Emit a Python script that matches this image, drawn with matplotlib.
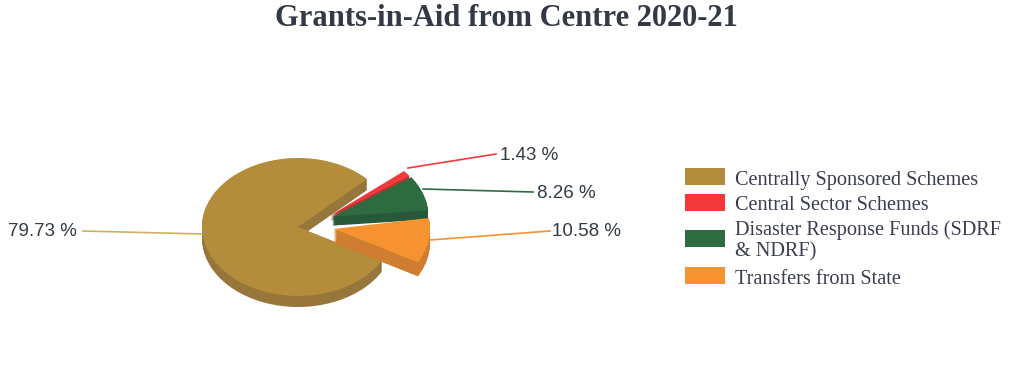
import numpy as np
import matplotlib
matplotlib.use("Agg")
import matplotlib.pyplot as plt
from matplotlib.patches import Rectangle

labels = ["Centrally Sponsored Schemes", "Central Sector Schemes",
          "Disaster Response Funds (SDRF\n& NDRF)", "Transfers from State"]
values = [79.73, 1.43, 8.26, 10.58]
explode = [0, 0.34, 0.37, 0.37]
colors = ["#b38c3c", "#f23a3a", "#2f6b40", "#f79230"]
side_colors = ["#96763a", "#c22f30", "#27583a", "#cf7d30"]
value_labels = ["79.73 %", "1.43 %", "8.26 %", "10.58 %"]

# the source chart's perspective moves the pulled out slices a little
turn = [0, -4, -4, 0]
nudge = [(0, 0), (8, -4), (2, 0), (1, 2.5)]
wall = [11, 6, 9, 14]

fig = plt.figure(figsize=(10.22, 3.81), dpi=100)
ax = fig.add_axes([0, 0, 1, 1])

# pie squashed into an ellipse through the axis limits
cx, cy, rx, ry = 298, 227, 96, 69
layers = [(side_colors, d) for d in np.linspace(1, 0.05, 14)] + [(colors, 0)]
for k, (c, frac) in enumerate(layers):
    wedges, _ = ax.pie(values, startangle=331, counterclock=False, colors=c, explode=explode,
                       radius=1)
    # each slice keeps its own stack, the later slices lie on top
    for i, w in enumerate(wedges):
        w.set_zorder(10 + i * 100 + k)
        w.set_theta1(w.theta1 + turn[i])
        w.set_theta2(w.theta2 + turn[i])
        w.set_center((w.center[0] + nudge[i][0] / rx,
                      w.center[1] + (nudge[i][1] - frac * wall[i]) / ry))
ax.set_aspect("auto")
ax.set_xlim(-cx / rx, (1022 - cx) / rx)
ax.set_ylim((cy - 381) / ry, cy / ry)
ax.axis("off")

# overlay in pixels for title, leader lines and legend
ov = fig.add_axes([0, 0, 1, 1], facecolor="none")
ov.set_xlim(0, 1022)
ov.set_ylim(381, 0)
ov.axis("off")

ov.text(506, 18, "Grants-in-Aid from Centre 2020-21", ha="center", va="center",
        family="Liberation Serif", weight="bold", fontsize=22, color="#333a45")

leaders = [((83, 231), (202, 234)), ((496, 154), (408, 168)),
           ((533, 192), (423, 189)), ((550, 231), (430, 240))]
label_pos = [(8, 232), (500, 155), (537, 194), (552, 232)]
line_colors = ["#d0b060", "#f23a3a", "#2f6b40", "#f79230"]
for lead, pos, txt, c in zip(leaders, label_pos, value_labels, line_colors):
    ov.plot([lead[0][0], lead[1][0]], [lead[0][1], lead[1][1]], color=c, lw=1.2)
    ov.text(pos[0], pos[1], txt, ha="left", va="center", family="Liberation Sans",
            fontsize=13.5, color="#333a45")

swatch_top = [168, 194, 230, 267]
text_y = [180, 205, 241, 279]
for lab, top, y, c in zip(labels, swatch_top, text_y, colors):
    ov.add_patch(Rectangle((685, top), 40, 17, color=c, lw=0))
    ov.text(735, y, lab, ha="left", va="center", family="Liberation Serif",
            fontsize=14.6, color="#3a3d52", linespacing=1.15)

fig.savefig("out.png", dpi=100)
